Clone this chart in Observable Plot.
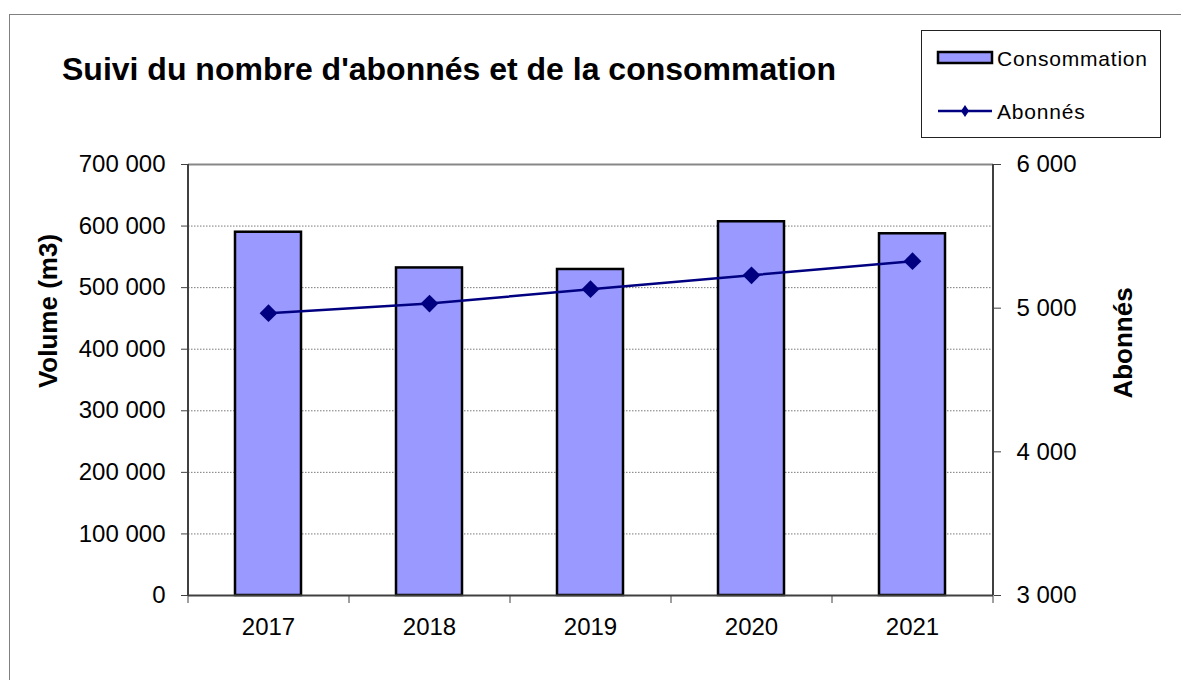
<!DOCTYPE html>
<html>
<head>
<meta charset="utf-8">
<script src="https://cdn.jsdelivr.net/npm/d3@7"></script>
<script src="https://cdn.jsdelivr.net/npm/@observablehq/plot@0.6"></script>
<style>
  body { margin: 0; background: #fff; font-family: "Liberation Sans", Arial, sans-serif; }
  #wrap { position: relative; width: 1181px; height: 680px; overflow: hidden; background: #fff; }
  #border { position: absolute; left: 9px; top: 14px; width: 1300px; height: 800px; border: 1px solid #808080; box-sizing: border-box; pointer-events: none; }
  #chart { position: absolute; left: 0; top: 0; }
  #title { position: absolute; left: 62px; top: 54px; font-size: 32px; line-height: 31px; font-weight: bold; color: #000; white-space: nowrap; }
  #legend { position: absolute; left: 920px; top: 29px; }
</style>
</head>
<body>
<div id="wrap">
  <div id="border"></div>
  <div id="chart"></div>
  <div id="title">Suivi du nombre d'abonnés et de la consommation</div>
  <svg id="legend" width="243" height="110" font-family="Liberation Sans, Arial, sans-serif">
    <rect x="1.5" y="1.5" width="239" height="107" fill="#fff" stroke="#222" stroke-width="1"></rect>
    <rect x="18" y="23" width="54" height="11" fill="#9999FF" stroke="#000" stroke-width="2.5"></rect>
    <text x="77" y="29" dominant-baseline="central" font-size="21" letter-spacing="0.8" fill="#000">Consommation</text>
    <line x1="18" x2="72" y1="82" y2="82" stroke="#000080" stroke-width="2.5"></line>
    <path d="M45,76 L49,82 L45,88 L41,82 Z" fill="#000080"></path>
    <text x="77" y="82" dominant-baseline="central" font-size="21" letter-spacing="0.8" fill="#000">Abonnés</text>
  </svg>
</div>
<script>
// ---- data ----
const years = ["2017", "2018", "2019", "2020", "2021"];
const consommation = [590000, 532000, 529500, 607000, 587500];
const abonnes = [4965, 5032, 5132, 5229, 5327];
const leftTicks = [0, 100000, 200000, 300000, 400000, 500000, 600000, 700000];
const rightTicks = [3000, 4000, 5000, 6000];
const leftDomain = [0, 700000];
const rightDomain = [3000, 6000];
const leftTitle = "Volume (m3)";
const rightTitle = "Abonnés";

// ---- layout ----
const W = 1181, H = 680;
const mL = 188, mR = 188, mT = 164, mB = 85;
const step = (W - mL - mR) / years.length;

const toLeft = v => (v - rightDomain[0]) / (rightDomain[1] - rightDomain[0]) * (leftDomain[1] - leftDomain[0]) + leftDomain[0];
const fromLeft = v => (v - leftDomain[0]) / (leftDomain[1] - leftDomain[0]) * (rightDomain[1] - rightDomain[0]) + rightDomain[0];

const fmt = d3.formatLocale({decimal: ",", thousands: " ", grouping: [3], currency: ["", " €"]}).format(",.0f");

const data = years.map((y, i) => ({year: y, conso: consommation[i], ab: abonnes[i], abY: toLeft(abonnes[i])}));

const axisColor = "#404040";
const fontSize = 24;

const chart = Plot.plot({
  width: W,
  height: H,
  marginLeft: mL,
  marginRight: mR,
  marginTop: mT,
  marginBottom: mB,
  style: {fontFamily: "Liberation Sans, Arial, sans-serif", fontSize: fontSize + "px", background: "transparent", color: "#000", overflow: "visible"},
  x: {type: "band", domain: years, paddingInner: 0.59, paddingOuter: 0.295, align: 0.5, axis: null, label: null},
  y: {domain: leftDomain, axis: null, label: null},
  marks: [
    // gridlines
    Plot.ruleY(leftTicks.slice(1, -1), {stroke: "#7a7a7a", strokeWidth: 1, strokeDasharray: "1.5,1.5"}),
    // plot area top border
    Plot.ruleY([leftDomain[1]], {stroke: "#888", strokeWidth: 2}),
    // bars
    Plot.barY(data, {x: "year", y: "conso", fill: "#9999FF", stroke: "#000", strokeWidth: 2.5}),
    // line + markers
    Plot.line(data, {x: "year", y: "abY", stroke: "#000080", strokeWidth: 2.5}),
    Plot.dot(data, {x: "year", y: "abY", symbol: "diamond2", r: 8, fill: "#000080", stroke: "none"}),
    // axis lines
    Plot.ruleX([years[0]], {dx: -step / 2, stroke: axisColor, strokeWidth: 2}),
    Plot.ruleX([years[years.length - 1]], {dx: step / 2, stroke: axisColor, strokeWidth: 2}),
    Plot.ruleY([leftDomain[0]], {stroke: axisColor, strokeWidth: 2}),
    // x boundary ticks
    Plot.axisX(years, {tickSize: 8, text: null, label: null, dx: -step / 2, stroke: axisColor, strokeWidth: 1}),
    Plot.axisX([years[years.length - 1]], {tickSize: 8, text: null, label: null, dx: step / 2, stroke: axisColor, strokeWidth: 1}),
    // x labels
    Plot.axisX(years, {tickSize: 0, tickPadding: 22, fontSize: fontSize, label: null, fill: "#000", letterSpacing: 1}),
    // left axis
    Plot.axisY(leftTicks, {anchor: "left", tickSize: 7, tickPadding: 16, tickFormat: fmt, fontSize: fontSize, label: null, stroke: axisColor, fill: "#000", letterSpacing: 1.5}),
    // right axis
    Plot.axisY(rightTicks.map(toLeft), {anchor: "right", tickSize: 7, tickPadding: 16, tickFormat: v => fmt(fromLeft(v)), fontSize: fontSize, label: null, stroke: axisColor, fill: "#000", letterSpacing: 1}),
    // axis titles
    Plot.text([leftTitle], {frameAnchor: "left", textAnchor: "middle", dx: -140, dy: -69, rotate: -90, fontSize: 26, fontWeight: "bold", fill: "#000"}),
    Plot.text([rightTitle], {frameAnchor: "right", textAnchor: "middle", dx: 130, dy: -37, rotate: -90, fontSize: 26, fontWeight: "bold", fill: "#000"})
  ]
});
document.getElementById("chart").appendChild(chart);
</script>
</body>
</html>
